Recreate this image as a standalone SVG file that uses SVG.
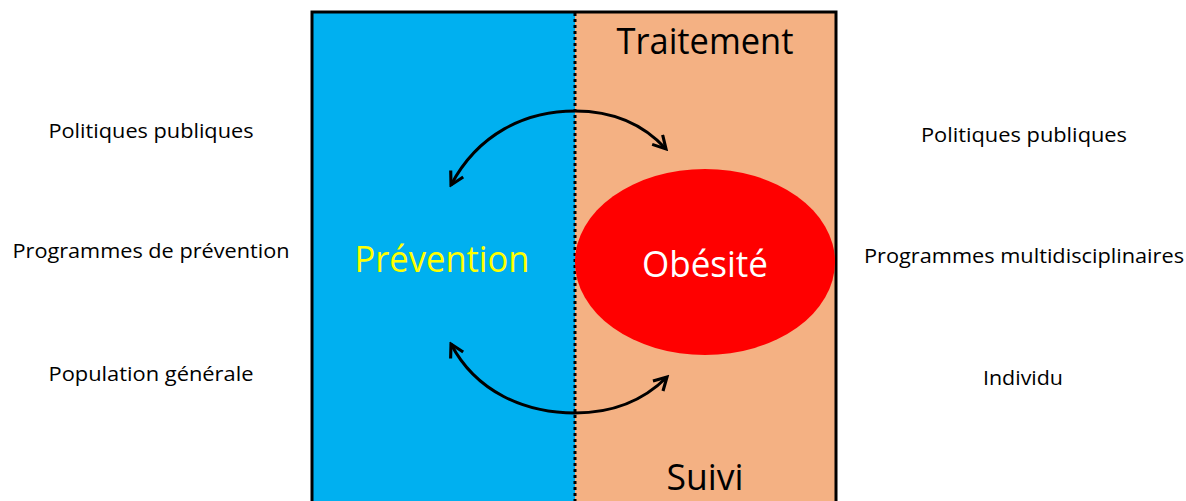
<svg xmlns="http://www.w3.org/2000/svg" width="1186" height="501" viewBox="0 0 1186 501">
  <style>
    .lbl { font-family: "Open Sans", "Noto Sans", sans-serif; fill: #000; }
    .side { font-size: 20px; }
    .big { font-size: 36px; }
    .conn { fill: none; stroke: #000; stroke-width: 3; }
  </style>
  <defs>
    <marker id="head" viewBox="0 0 12 12" refX="10" refY="6" markerWidth="17" markerHeight="17" markerUnits="userSpaceOnUse" orient="auto-start-reverse">
      <path d="M1,1 L10,6 L1,11" fill="none" stroke="#000" stroke-width="2.2" stroke-linejoin="miter"/>
    </marker>
  </defs>
  <rect width="1186" height="501" fill="#fff"/>

  <g id="prevention">
    <rect x="312" y="12" width="263" height="495" fill="#00B0F0"/>
    <text class="lbl big" x="442" y="272" text-anchor="middle" style="fill:#FFFF00" textLength="175" lengthAdjust="spacingAndGlyphs">Prévention</text>
  </g>

  <g id="traitement">
    <rect x="575" y="12" width="261" height="495" fill="#F4B183"/>
    <text class="lbl big" x="705" y="54" text-anchor="middle" textLength="177" lengthAdjust="spacingAndGlyphs">Traitement</text>
    <text class="lbl big" x="705" y="490" text-anchor="middle" textLength="77" lengthAdjust="spacingAndGlyphs">Suivi</text>
  </g>

  <g id="frame">
    <rect x="312" y="12" width="524" height="500" fill="none" stroke="#000" stroke-width="3"/>
    <line x1="575" y1="13" x2="575" y2="501" stroke="#000" stroke-width="3" stroke-dasharray="3,3"/>
  </g>

  <g id="obesite">
    <ellipse cx="705" cy="262" rx="130" ry="93" fill="#FF0000"/>
    <text class="lbl big" x="705" y="277" text-anchor="middle" style="fill:#fff" textLength="126" lengthAdjust="spacingAndGlyphs">Obésité</text>
  </g>

  <g id="connectors">
    <path class="conn" d="M451,185 C478,134 525,111 575,111 C615,111 645,126 666,149" marker-start="url(#head)" marker-end="url(#head)"/>
    <path class="conn" d="M451,344 C476,392 525,413 575,413 C615,413 645,399 667,377" marker-start="url(#head)" marker-end="url(#head)"/>
  </g>

  <g id="left-labels">
    <text class="lbl side" x="151" y="138" text-anchor="middle" textLength="205" lengthAdjust="spacingAndGlyphs">Politiques publiques</text>
    <text class="lbl side" x="151" y="258" text-anchor="middle" textLength="277" lengthAdjust="spacingAndGlyphs">Programmes de prévention</text>
    <text class="lbl side" x="151" y="381" text-anchor="middle" textLength="205" lengthAdjust="spacingAndGlyphs">Population générale</text>
  </g>

  <g id="right-labels">
    <text class="lbl side" x="1024" y="142" text-anchor="middle" textLength="206" lengthAdjust="spacingAndGlyphs">Politiques publiques</text>
    <text class="lbl side" x="1024" y="263" text-anchor="middle" textLength="320" lengthAdjust="spacingAndGlyphs">Programmes multidisciplinaires</text>
    <text class="lbl side" x="1023" y="385" text-anchor="middle" textLength="80" lengthAdjust="spacingAndGlyphs">Individu</text>
  </g>
</svg>
